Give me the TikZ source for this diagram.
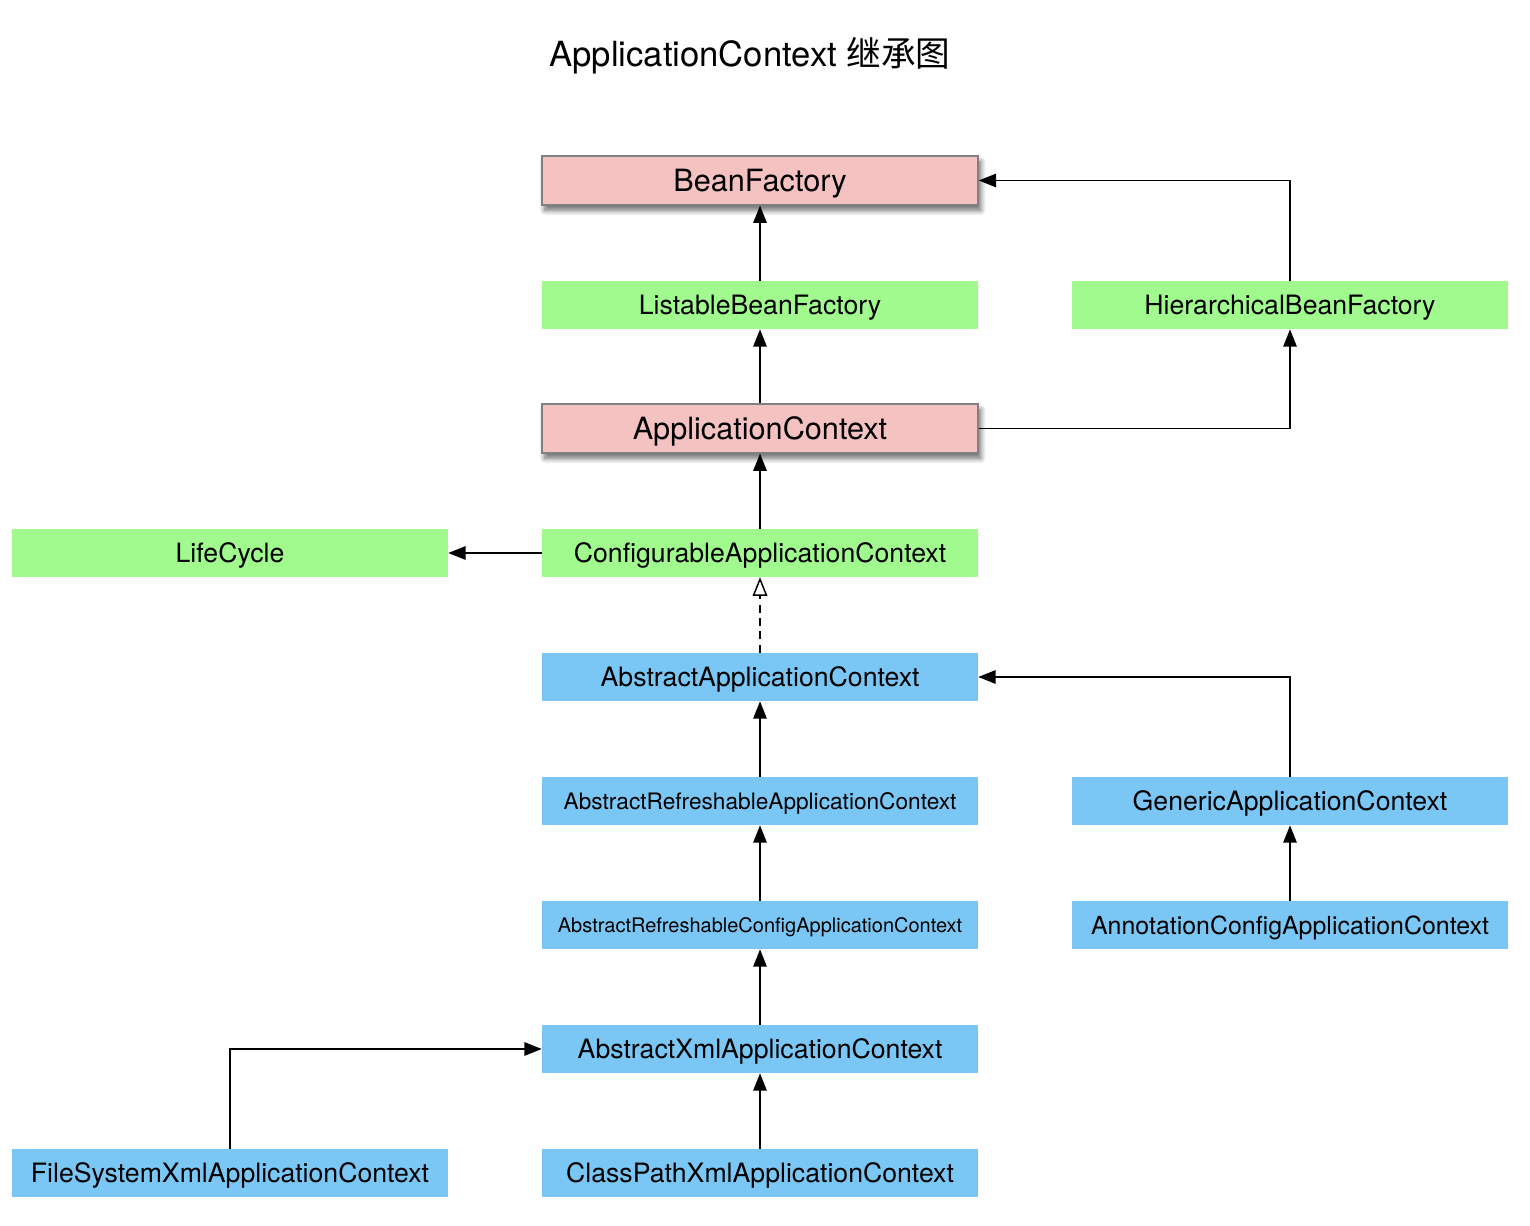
\documentclass[tikz,border=0pt]{standalone}
\usepackage{fontspec}
\setmainfont{TeX Gyre Heros}
\newfontfamily\cjkfont{Noto Sans CJK SC}
\usetikzlibrary{arrows.meta,shadows.blur}
\definecolor{pinkbox}{RGB}{245,194,194}
\definecolor{greenbox}{RGB}{161,250,142}
\definecolor{bluebox}{RGB}{122,199,245}
\definecolor{borderbox}{RGB}{128,128,128}

\begin{document}
\begin{tikzpicture}[x=0.75pt,y=-0.75pt,
		box/.style={rectangle, inner sep=0pt, minimum width=327pt, minimum height=36pt, text depth=0pt, font=\fontsize{20pt}{24pt}\selectfont},
		iface/.style={box, fill=greenbox},
		core/.style={box, fill=pinkbox, draw=borderbox, line width=1.1pt, minimum height=36.5pt, blur shadow={shadow xshift=2pt, shadow yshift=-4pt, shadow blur steps=8, shadow blur radius=4pt, shadow opacity=60}, font=\fontsize{23pt}{27pt}\selectfont},
		impl/.style={box, fill=bluebox},
		inherit/.style={-{Triangle[length=13pt,width=10pt]}, line width=1.3pt},
		realize/.style={-{Triangle[open,length=14pt,width=11pt,line width=1.1pt]}, line width=1.3pt, dash pattern=on 6pt off 4pt}]
			\useasboundingbox (0,0) rectangle (1530,1226);
			% title
			\node[font=\fontsize{26pt}{30pt}\selectfont] (title) at (750,56) {ApplicationContext {\cjkfont 继承图}};
			
			% interfaces
			\node[core] (BF) at (760,180.5) {BeanFactory};
			\node[iface] (LBF) at (760,305) {ListableBeanFactory};
			\node[iface] (HBF) at (1290,305) {HierarchicalBeanFactory};
			\node[core] (AC) at (760,428.5) {ApplicationContext};
			\node[iface] (LC) at (230,553) {LifeCycle};
			\node[iface] (CAC) at (760,553) {ConfigurableApplicationContext};
			
			% implementations
			\node[impl] (AAC) at (760,677) {AbstractApplicationContext};
			\node[impl, font=\fontsize{17pt}{20pt}\selectfont] (ARAC) at (760,801) {AbstractRefreshableApplicationContext};
			\node[impl] (GAC) at (1290,801) {GenericApplicationContext};
			\node[impl, font=\fontsize{15pt}{18pt}\selectfont] (ARCAC) at (760,925) {AbstractRefreshableConfigApplicationContext};
			\node[impl, font=\fontsize{18.7pt}{22pt}\selectfont] (ACAC) at (1290,925) {AnnotationConfigApplicationContext};
			\node[impl] (AXAC) at (760,1049) {AbstractXmlApplicationContext};
			\node[impl] (FSXAC) at (230,1173) {FileSystemXmlApplicationContext};
			\node[impl] (CPXAC) at (760,1173) {ClassPathXmlApplicationContext};
			
			\draw[inherit] (LBF) -- (BF);
			\draw[inherit] (HBF.north) |- (BF.east);
			\draw[inherit] (AC) -- (LBF);
			\draw[inherit] (AC.east) -| (HBF.south);
			\draw[inherit] (CAC) -- (AC);
			\draw[inherit] (CAC) -- (LC);
			\draw[realize] (AAC) -- (CAC);
			\draw[inherit] (ARAC) -- (AAC);
			\draw[inherit] (GAC.north) |- (AAC.east);
			\draw[inherit] (ARCAC) -- (ARAC);
			\draw[inherit] (ACAC) -- (GAC);
			\draw[inherit] (AXAC) -- (ARCAC);
			\draw[inherit] (FSXAC.north) |- (AXAC.west);
			\draw[inherit] (CPXAC) -- (AXAC);
	\end{tikzpicture}
\end{document}
